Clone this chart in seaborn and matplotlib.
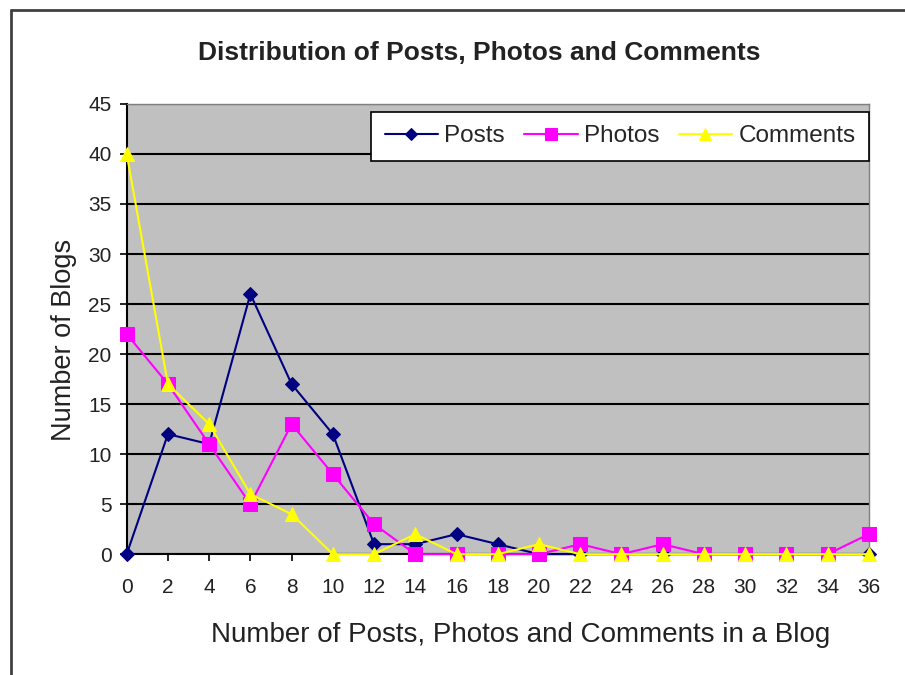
import numpy as np
import pandas as pd
import seaborn as sns
from matplotlib import pyplot as plt
from matplotlib.lines import Line2D

# values
x_vals = list(range(0, 37, 2))
posts = [0, 12, 11, 26, 17, 12, 1, 1, 2, 1, 0, 0, 0, 0, 0, 0, 0, 0, 0]
photos = [22, 17, 11, 5, 13, 8, 3, 0, 0, 0, 0, 1, 0, 1, 0, 0, 0, 0, 2]
comments = [40, 17, 13, 6, 4, 0, 0, 2, 0, 0, 1, 0, 0, 0, 0, 0, 0, 0, 0]
series_names = ['Posts', 'Photos', 'Comments']

df = pd.DataFrame({
    'x': x_vals * 3,
    'y': posts + photos + comments,
    'series': np.repeat(series_names, len(x_vals)),
})

sns.set_style('white')
plt.rcParams['font.family'] = ['Liberation Sans', 'DejaVu Sans']

fig = plt.figure(figsize=(9.05, 6.75), dpi=100)
ax = fig.add_axes([0.140, 0.179, 0.820, 0.667])
ax.set_facecolor('#C0C0C0')

palette = {'Posts': '#000080', 'Photos': '#FF00FF', 'Comments': '#FFFF00'}
markers = {'Posts': 'D', 'Photos': 's', 'Comments': '^'}
sizes = {'Posts': 7.5, 'Photos': 10, 'Comments': 10}

for name in series_names:
    sub = df[df['series'] == name]
    sns.lineplot(data=sub, x='x', y='y', ax=ax, color=palette[name],
                 marker=markers[name], markersize=sizes[name],
                 markeredgecolor=palette[name], linewidth=1.5,
                 label=name, clip_on=False, zorder=3)

ax.set_xlim(0, 36)
ax.set_ylim(0, 45)
ax.set_xticks(x_vals)
ax.set_yticks(range(0, 46, 5))
ax.tick_params(axis='both', labelsize=15, length=5, width=1.2,
               direction='out', colors='black')
ax.tick_params(axis='x', bottom=True, pad=12)
ax.tick_params(axis='y', left=True, pad=6)
for lab in ax.get_xticklabels() + ax.get_yticklabels():
    lab.set_color('#222222')

ax.grid(axis='y', color='black', linewidth=1.5)
ax.grid(axis='x', visible=False)
ax.set_axisbelow(True)

for side in ['top', 'right']:
    ax.spines[side].set_color('#808080')
    ax.spines[side].set_linewidth(1)
for side in ['left', 'bottom']:
    ax.spines[side].set_color('black')
    ax.spines[side].set_linewidth(1.5)

ax.set_xlabel('Number of Posts, Photos and Comments in a Blog', fontsize=20,
              color='#222222')
ax.set_ylabel('Number of Blogs', fontsize=19.5, color='#222222')
ax.xaxis.set_label_coords(0.531, -0.151)
ax.yaxis.set_label_coords(-0.067, 0.476)
fig.text(0.530, 0.921, 'Distribution of Posts, Photos and Comments',
         fontsize=19, fontweight='bold', ha='center', va='center', color='#222222')

leg = ax.legend(loc='upper right', ncol=3, fontsize=17.5, frameon=True,
                fancybox=False, edgecolor='black', framealpha=1,
                handlelength=2.2, handletextpad=0.25, columnspacing=0.8,
                borderpad=0.55, borderaxespad=0.0, bbox_to_anchor=(1.0, 0.982),
                markerscale=0.8)
leg.get_frame().set_linewidth(1.2)

# outer chart border (left and top visible)
fig.add_artist(Line2D([0.012, 0.012], [0, 0.985], color='#404040', linewidth=2, transform=fig.transFigure))
fig.add_artist(Line2D([0.012, 1.0], [0.985, 0.985], color='#404040', linewidth=2, transform=fig.transFigure))

fig.savefig('out.png', dpi=100)
